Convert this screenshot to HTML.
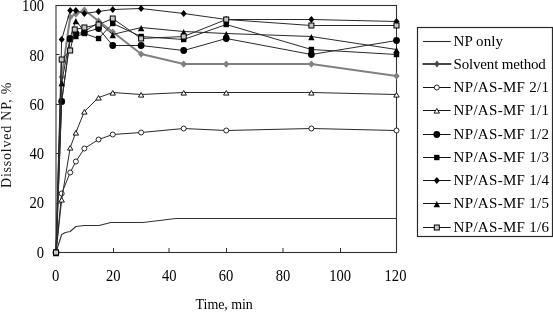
<!DOCTYPE html>
<html><head><meta charset="utf-8"><style>
html,body{margin:0;padding:0;background:#fff;width:553px;height:312px;overflow:hidden}
svg{display:block;will-change:transform}
</style></head><body>
<svg width="553" height="312" viewBox="0 0 553 312">
<rect width="553" height="312" fill="#fff"/>
<g font-family="'Liberation Serif', serif" font-size="14.6" fill="#000">
<text transform="translate(44 10.9) scale(1 1.1)" text-anchor="end">100</text><text transform="translate(44 61.0) scale(1 1.1)" text-anchor="end">80</text><text transform="translate(44 109.7) scale(1 1.1)" text-anchor="end">60</text><text transform="translate(44 158.9) scale(1 1.1)" text-anchor="end">40</text><text transform="translate(44 208.2) scale(1 1.1)" text-anchor="end">20</text><text transform="translate(44 258.3) scale(1 1.1)" text-anchor="end">0</text>
<text transform="translate(55.6 281) scale(1 1.1)" text-anchor="middle">0</text><text transform="translate(113.3 281) scale(1 1.1)" text-anchor="middle">20</text><text transform="translate(169.2 281) scale(1 1.1)" text-anchor="middle">40</text><text transform="translate(226 281) scale(1 1.1)" text-anchor="middle">60</text><text transform="translate(283 281) scale(1 1.1)" text-anchor="middle">80</text><text transform="translate(340.2 281) scale(1 1.1)" text-anchor="middle">100</text><text transform="translate(395.5 281) scale(1 1.1)" text-anchor="middle">120</text>
<text x="195.6" y="309.2" font-size="14" textLength="57.2" lengthAdjust="spacing">Time, min</text>
<text transform="translate(10.9 188) rotate(-90)" font-size="14" fill="#1a1a1a" textLength="105.4" lengthAdjust="spacing">Dissolved NP, %</text>
</g>
<g>
<rect x="56" y="5.5" width="340.5" height="247" fill="none" stroke="#333" stroke-width="1.1"/>
<line x1="56" y1="203.5" x2="59.5" y2="203.5" stroke="#333" stroke-width="1"/><line x1="56" y1="153.5" x2="59.5" y2="153.5" stroke="#333" stroke-width="1"/><line x1="56" y1="104.5" x2="59.5" y2="104.5" stroke="#333" stroke-width="1"/><line x1="56" y1="54.5" x2="59.5" y2="54.5" stroke="#333" stroke-width="1"/><line x1="113.5" y1="252.5" x2="113.5" y2="248" stroke="#333" stroke-width="1"/><line x1="169" y1="252.5" x2="169" y2="248" stroke="#333" stroke-width="1"/><line x1="226.5" y1="252.5" x2="226.5" y2="248" stroke="#333" stroke-width="1"/><line x1="283" y1="252.5" x2="283" y2="248" stroke="#333" stroke-width="1"/><line x1="340.5" y1="252.5" x2="340.5" y2="248" stroke="#333" stroke-width="1"/>
</g>
<g>
<path d="M56 252.5 L58.84 243.5 L61.67 234.5 L65.36 232.5 L70.19 231.5 L75.86 226.5 L84.38 225.5 L99.13 225.5 L110.76 222.5 L142.83 222.5 L176.03 218.5 L226.25 218.5 L311.38 218.5 L396.5 218.5" fill="none" stroke="#333" stroke-width="1.1" stroke-linejoin="round"/><path d="M56 252 L61.67 77 L70.19 17 L75.86 14 L84.38 10 L98.56 21 L112.75 32 L141.12 54 L183.69 64 L226.25 64 L311.38 64 L396.5 76" fill="none" stroke="#808080" stroke-width="2" stroke-linejoin="round"/><path d="M56 248.5L59.2 252L56 255.8L52.8 252Z" fill="#808080"/><path d="M61.67 73.5L64.88 77L61.67 80.8L58.47 77Z" fill="#808080"/><path d="M70.19 13.5L73.39 17L70.19 20.8L66.99 17Z" fill="#808080"/><path d="M75.86 10.5L79.06 14L75.86 17.8L72.66 14Z" fill="#808080"/><path d="M84.38 6.5L87.58 10L84.38 13.8L81.17 10Z" fill="#808080"/><path d="M98.56 17.5L101.76 21L98.56 24.8L95.36 21Z" fill="#808080"/><path d="M112.75 28.5L115.95 32L112.75 35.8L109.55 32Z" fill="#808080"/><path d="M141.12 50.5L144.32 54L141.12 57.8L137.93 54Z" fill="#808080"/><path d="M183.69 60.5L186.89 64L183.69 67.8L180.49 64Z" fill="#808080"/><path d="M226.25 60.5L229.45 64L226.25 67.8L223.05 64Z" fill="#808080"/><path d="M311.38 60.5L314.57 64L311.38 67.8L308.18 64Z" fill="#808080"/><path d="M396.5 72.5L399.7 76L396.5 79.8L393.3 76Z" fill="#808080"/><path d="M56 252.5 L61.67 193.5 L70.19 172.5 L75.86 161.5 L84.38 148.5 L98.56 139.5 L112.75 134.5 L141.12 132.5 L183.69 128.5 L226.25 130.5 L311.38 128.5 L396.5 130.5" fill="none" stroke="#2a2a2a" stroke-width="1" stroke-linejoin="round"/><circle cx="56" cy="252.5" r="2.5" fill="#fff" stroke="#000" stroke-width="0.85"/><circle cx="61.67" cy="193.5" r="2.5" fill="#fff" stroke="#000" stroke-width="0.85"/><circle cx="70.19" cy="172.5" r="2.5" fill="#fff" stroke="#000" stroke-width="0.85"/><circle cx="75.86" cy="161.5" r="2.5" fill="#fff" stroke="#000" stroke-width="0.85"/><circle cx="84.38" cy="148.5" r="2.5" fill="#fff" stroke="#000" stroke-width="0.85"/><circle cx="98.56" cy="139.5" r="2.5" fill="#fff" stroke="#000" stroke-width="0.85"/><circle cx="112.75" cy="134.5" r="2.5" fill="#fff" stroke="#000" stroke-width="0.85"/><circle cx="141.12" cy="132.5" r="2.5" fill="#fff" stroke="#000" stroke-width="0.85"/><circle cx="183.69" cy="128.5" r="2.5" fill="#fff" stroke="#000" stroke-width="0.85"/><circle cx="226.25" cy="130.5" r="2.5" fill="#fff" stroke="#000" stroke-width="0.85"/><circle cx="311.38" cy="128.5" r="2.5" fill="#fff" stroke="#000" stroke-width="0.85"/><circle cx="396.5" cy="130.5" r="2.5" fill="#fff" stroke="#000" stroke-width="0.85"/><path d="M56 252.5 L61.67 199.5 L70.19 147.5 L75.86 132.5 L84.38 111.5 L98.56 97.5 L112.75 92.5 L141.12 94.5 L183.69 92.5 L226.25 92.5 L311.38 92.5 L396.5 94.5" fill="none" stroke="#2a2a2a" stroke-width="1" stroke-linejoin="round"/><path d="M56 250.5L58.7 255.1L53.3 255.1Z" fill="#fff" stroke="#000" stroke-width="0.9"/><path d="M61.67 197.5L64.38 202.1L58.97 202.1Z" fill="#fff" stroke="#000" stroke-width="0.9"/><path d="M70.19 145.5L72.89 150.1L67.49 150.1Z" fill="#fff" stroke="#000" stroke-width="0.9"/><path d="M75.86 130.5L78.56 135.1L73.16 135.1Z" fill="#fff" stroke="#000" stroke-width="0.9"/><path d="M84.38 109.5L87.08 114.1L81.67 114.1Z" fill="#fff" stroke="#000" stroke-width="0.9"/><path d="M98.56 95.5L101.26 100.1L95.86 100.1Z" fill="#fff" stroke="#000" stroke-width="0.9"/><path d="M112.75 90.5L115.45 95.1L110.05 95.1Z" fill="#fff" stroke="#000" stroke-width="0.9"/><path d="M141.12 92.5L143.82 97.1L138.43 97.1Z" fill="#fff" stroke="#000" stroke-width="0.9"/><path d="M183.69 90.5L186.39 95.1L180.99 95.1Z" fill="#fff" stroke="#000" stroke-width="0.9"/><path d="M226.25 90.5L228.95 95.1L223.55 95.1Z" fill="#fff" stroke="#000" stroke-width="0.9"/><path d="M311.38 90.5L314.07 95.1L308.68 95.1Z" fill="#fff" stroke="#000" stroke-width="0.9"/><path d="M396.5 92.5L399.2 97.1L393.8 97.1Z" fill="#fff" stroke="#000" stroke-width="0.9"/><path d="M56 252.5 L61.67 101.5 L70.19 38.5 L75.86 33.5 L84.38 32.5 L98.56 28.5 L112.75 45.5 L141.12 45.5 L183.69 50.5 L226.25 38.5 L311.38 54.5 L396.5 40.5" fill="none" stroke="#2a2a2a" stroke-width="1" stroke-linejoin="round"/><circle cx="56" cy="252.5" r="3.4" fill="#000"/><circle cx="61.67" cy="101.5" r="3.4" fill="#000"/><circle cx="70.19" cy="38.5" r="3.4" fill="#000"/><circle cx="75.86" cy="33.5" r="3.4" fill="#000"/><circle cx="84.38" cy="32.5" r="3.4" fill="#000"/><circle cx="98.56" cy="28.5" r="3.4" fill="#000"/><circle cx="112.75" cy="45.5" r="3.4" fill="#000"/><circle cx="141.12" cy="45.5" r="3.4" fill="#000"/><circle cx="183.69" cy="50.5" r="3.4" fill="#000"/><circle cx="226.25" cy="38.5" r="3.4" fill="#000"/><circle cx="311.38" cy="54.5" r="3.4" fill="#000"/><circle cx="396.5" cy="40.5" r="3.4" fill="#000"/><path d="M56 252.5 L61.67 101.5 L70.19 39.5 L75.86 36.5 L84.38 33.5 L98.56 38.5 L112.75 23.5 L141.12 36.5 L183.69 39.5 L226.25 24.5 L311.38 49.5 L396.5 54.5" fill="none" stroke="#2a2a2a" stroke-width="1" stroke-linejoin="round"/><rect x="53.3" y="249.8" width="5.4" height="5.4" fill="#000"/><rect x="58.97" y="98.8" width="5.4" height="5.4" fill="#000"/><rect x="67.49" y="36.8" width="5.4" height="5.4" fill="#000"/><rect x="73.16" y="33.8" width="5.4" height="5.4" fill="#000"/><rect x="81.67" y="30.8" width="5.4" height="5.4" fill="#000"/><rect x="95.86" y="35.8" width="5.4" height="5.4" fill="#000"/><rect x="110.05" y="20.8" width="5.4" height="5.4" fill="#000"/><rect x="138.43" y="33.8" width="5.4" height="5.4" fill="#000"/><rect x="180.99" y="36.8" width="5.4" height="5.4" fill="#000"/><rect x="223.55" y="21.8" width="5.4" height="5.4" fill="#000"/><rect x="308.68" y="46.8" width="5.4" height="5.4" fill="#000"/><rect x="393.8" y="51.8" width="5.4" height="5.4" fill="#000"/><path d="M56 252.5 L61.67 39.5 L70.19 10.5 L75.86 10.5 L84.38 13.5 L98.56 11.5 L112.75 9.5 L141.12 8.5 L183.69 13.5 L226.25 19.5 L311.38 19.5 L396.5 21.5" fill="none" stroke="#2a2a2a" stroke-width="1" stroke-linejoin="round"/><path d="M56 249L59 252.5L56 256L53 252.5Z" fill="#000"/><path d="M61.67 36L64.67 39.5L61.67 43L58.67 39.5Z" fill="#000"/><path d="M70.19 7L73.19 10.5L70.19 14L67.19 10.5Z" fill="#000"/><path d="M75.86 7L78.86 10.5L75.86 14L72.86 10.5Z" fill="#000"/><path d="M84.38 10L87.38 13.5L84.38 17L81.38 13.5Z" fill="#000"/><path d="M98.56 8L101.56 11.5L98.56 15L95.56 11.5Z" fill="#000"/><path d="M112.75 6L115.75 9.5L112.75 13L109.75 9.5Z" fill="#000"/><path d="M141.12 5L144.12 8.5L141.12 12L138.12 8.5Z" fill="#000"/><path d="M183.69 10L186.69 13.5L183.69 17L180.69 13.5Z" fill="#000"/><path d="M226.25 16L229.25 19.5L226.25 23L223.25 19.5Z" fill="#000"/><path d="M311.38 16L314.38 19.5L311.38 23L308.38 19.5Z" fill="#000"/><path d="M396.5 18L399.5 21.5L396.5 25L393.5 21.5Z" fill="#000"/><path d="M56 252.5 L61.67 82.5 L70.19 37.5 L75.86 20.5 L84.38 31.5 L98.56 22.5 L112.75 34.5 L141.12 27.5 L183.69 31.5 L226.25 33.5 L311.38 36.5 L396.5 49.5" fill="none" stroke="#2a2a2a" stroke-width="1" stroke-linejoin="round"/><path d="M56 249.9L59.2 256.3L52.8 256.3Z" fill="#000"/><path d="M61.67 79.9L64.88 86.3L58.47 86.3Z" fill="#000"/><path d="M70.19 34.9L73.39 41.3L66.99 41.3Z" fill="#000"/><path d="M75.86 17.9L79.06 24.3L72.66 24.3Z" fill="#000"/><path d="M84.38 28.9L87.58 35.3L81.17 35.3Z" fill="#000"/><path d="M98.56 19.9L101.76 26.3L95.36 26.3Z" fill="#000"/><path d="M112.75 31.9L115.95 38.3L109.55 38.3Z" fill="#000"/><path d="M141.12 24.9L144.32 31.3L137.93 31.3Z" fill="#000"/><path d="M183.69 28.9L186.89 35.3L180.49 35.3Z" fill="#000"/><path d="M226.25 30.9L229.45 37.3L223.05 37.3Z" fill="#000"/><path d="M311.38 33.9L314.57 40.3L308.18 40.3Z" fill="#000"/><path d="M396.5 46.9L399.7 53.3L393.3 53.3Z" fill="#000"/><path d="M56 252.5 L61.67 59.5 L70.19 50.5 L74.73 29.5 L84.38 27.5 L98.56 24.5 L112.75 18.5 L141.12 38.5 L183.69 36.5 L226.25 19.5 L311.38 25.5 L396.5 25.5" fill="none" stroke="#2a2a2a" stroke-width="1" stroke-linejoin="round"/><rect x="53.5" y="250" width="5" height="5" fill="#c8c8c8" stroke="#000" stroke-width="1"/><rect x="59.17" y="57" width="5" height="5" fill="#c8c8c8" stroke="#000" stroke-width="1"/><rect x="67.69" y="48" width="5" height="5" fill="#c8c8c8" stroke="#000" stroke-width="1"/><rect x="72.23" y="27" width="5" height="5" fill="#c8c8c8" stroke="#000" stroke-width="1"/><rect x="81.88" y="25" width="5" height="5" fill="#c8c8c8" stroke="#000" stroke-width="1"/><rect x="96.06" y="22" width="5" height="5" fill="#c8c8c8" stroke="#000" stroke-width="1"/><rect x="110.25" y="16" width="5" height="5" fill="#c8c8c8" stroke="#000" stroke-width="1"/><rect x="138.62" y="36" width="5" height="5" fill="#c8c8c8" stroke="#000" stroke-width="1"/><rect x="181.19" y="34" width="5" height="5" fill="#c8c8c8" stroke="#000" stroke-width="1"/><rect x="223.75" y="17" width="5" height="5" fill="#c8c8c8" stroke="#000" stroke-width="1"/><rect x="308.88" y="23" width="5" height="5" fill="#c8c8c8" stroke="#000" stroke-width="1"/><rect x="394" y="23" width="5" height="5" fill="#c8c8c8" stroke="#000" stroke-width="1"/>
</g>
<rect x="417.5" y="27.5" width="135" height="209" fill="#fff" stroke="#2a2a2a" stroke-width="1.2"/>
<g font-family="'Liberation Serif', serif" font-size="15" fill="#000">
<line x1="423" y1="41.5" x2="450.7" y2="41.5" stroke="#2a2a2a" stroke-width="1.1"/><text x="453.6" y="46.1" textLength="49.3" lengthAdjust="spacing">NP only</text><line x1="422.5" y1="64" x2="451.3" y2="64" stroke="#444" stroke-width="2"/><path d="M437 60.4L439.7 64L437 67.6L434.3 64Z" fill="#444"/><text x="453.6" y="68.6" textLength="92.2" lengthAdjust="spacing">Solvent method</text><line x1="423" y1="87.5" x2="450.7" y2="87.5" stroke="#111" stroke-width="1"/><circle cx="436.8" cy="87.5" r="2.5" fill="#fff" stroke="#000" stroke-width="0.85"/><text x="453.6" y="92.1" textLength="95.5" lengthAdjust="spacing">NP/AS-MF 2/1</text><line x1="423" y1="110.5" x2="450.7" y2="110.5" stroke="#111" stroke-width="1"/><path d="M436.8 108.5L439.5 113.1L434.1 113.1Z" fill="#fff" stroke="#000" stroke-width="0.9"/><text x="453.6" y="115.1" textLength="95.5" lengthAdjust="spacing">NP/AS-MF 1/1</text><line x1="423" y1="134.5" x2="450.7" y2="134.5" stroke="#111" stroke-width="1"/><circle cx="436.8" cy="134.5" r="3.4" fill="#000"/><text x="453.6" y="139.1" textLength="95.5" lengthAdjust="spacing">NP/AS-MF 1/2</text><line x1="423" y1="157.5" x2="450.7" y2="157.5" stroke="#111" stroke-width="1"/><rect x="434.1" y="154.8" width="5.4" height="5.4" fill="#000"/><text x="453.6" y="162.1" textLength="95.5" lengthAdjust="spacing">NP/AS-MF 1/3</text><line x1="423" y1="180.5" x2="450.7" y2="180.5" stroke="#111" stroke-width="1"/><path d="M436.8 177L439.8 180.5L436.8 184L433.8 180.5Z" fill="#000"/><text x="453.6" y="185.1" textLength="95.5" lengthAdjust="spacing">NP/AS-MF 1/4</text><line x1="423" y1="203.5" x2="450.7" y2="203.5" stroke="#111" stroke-width="1"/><path d="M436.8 200.9L440 207.3L433.6 207.3Z" fill="#000"/><text x="453.6" y="208.1" textLength="95.5" lengthAdjust="spacing">NP/AS-MF 1/5</text><line x1="423" y1="227.5" x2="450.7" y2="227.5" stroke="#111" stroke-width="1"/><rect x="434.3" y="225" width="5" height="5" fill="#c8c8c8" stroke="#000" stroke-width="1"/><text x="453.6" y="232.1" textLength="95.5" lengthAdjust="spacing">NP/AS-MF 1/6</text>
</g>
</svg>
</body></html>
